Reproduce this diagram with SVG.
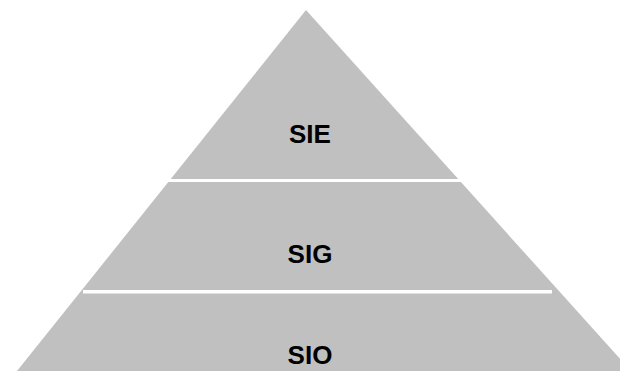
<svg xmlns="http://www.w3.org/2000/svg" width="620" height="371" viewBox="0 0 620 371">
  <style>
    .tier { fill: #c0c0c0; }
    .gap { fill: #ffffff; }
    .label { font-family: "Liberation Sans", Arial, sans-serif; font-weight: bold; font-size: 26px; fill: #000000; text-anchor: middle; }
  </style>
  <!-- pyramid body -->
  <g id="pyramid">
    <polygon class="tier" points="306,10 17,371 631,371"/>
  </g>
  <!-- separators between tiers -->
  <g id="separators">
    <rect class="gap" x="150" y="179" width="330" height="3"/>
    <rect class="gap" x="83" y="290" width="469" height="3.5"/>
  </g>
  <g id="tier-sie">
    <text class="label" x="310" y="143">SIE</text>
  </g>
  <g id="tier-sig">
    <text class="label" x="310" y="263">SIG</text>
  </g>
  <g id="tier-sio">
    <text class="label" x="310" y="364">SIO</text>
  </g>
</svg>
